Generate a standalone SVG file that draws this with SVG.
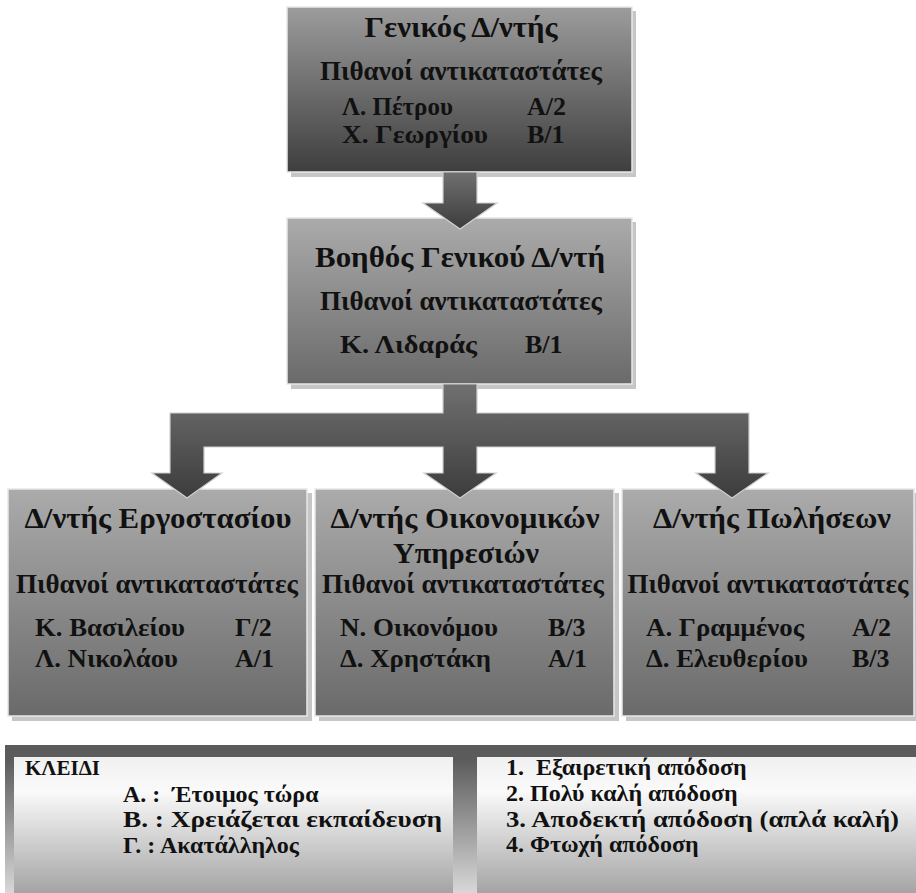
<svg xmlns="http://www.w3.org/2000/svg" width="916" height="893" viewBox="0 0 916 893">
<defs>
<linearGradient id="gTop" x1="0" y1="0" x2="0" y2="1"><stop offset="0" stop-color="#9c9c9c"/><stop offset="1" stop-color="#3e3e3e"/></linearGradient>
<linearGradient id="gBox" x1="0" y1="0" x2="0" y2="1"><stop offset="0" stop-color="#ababab"/><stop offset="1" stop-color="#6a6a6a"/></linearGradient>
<linearGradient id="gArrow" x1="0" y1="0" x2="0" y2="1"><stop offset="0" stop-color="#707070"/><stop offset="1" stop-color="#3c3c3c"/></linearGradient>
<linearGradient id="gFrame" x1="0" y1="0" x2="0" y2="1"><stop offset="0" stop-color="#5a5a5a"/><stop offset="0.1" stop-color="#5c5c5c"/><stop offset="1" stop-color="#d8d8d8"/></linearGradient>
<linearGradient id="gPanel" x1="0" y1="0" x2="0" y2="1"><stop offset="0" stop-color="#f0f0f0"/><stop offset="0.25" stop-color="#fafafa"/><stop offset="1" stop-color="#a4a4a4"/></linearGradient>
<style>
text{font-family:"Liberation Serif","Times New Roman",serif;font-weight:bold;fill:#111}
.t{font-size:30px;text-anchor:middle}
.p{font-size:27px;text-anchor:middle}
.n{font-size:26px}
.k{font-size:24px;white-space:pre}
.shadow{fill:#c6c6c6}
.box{stroke:#e8e8e8;stroke-width:1.5}
.arrow{fill:url(#gArrow);stroke:#cfcfcf;stroke-width:1.2}
</style>
</defs>
<rect width="916" height="893" fill="#ffffff"/>

<g id="node-general">
<rect class="shadow" x="291" y="11" width="345" height="166"/>
<rect class="box" x="287" y="7" width="345" height="165" fill="url(#gTop)"/>
<text class="t" x="461" y="37" textLength="193" lengthAdjust="spacingAndGlyphs">Γενικός Δ/ντής</text>
<text class="p" x="461" y="80" textLength="282" lengthAdjust="spacingAndGlyphs">Πιθανοί αντικαταστάτες</text>
<text class="n" x="342" y="115" textLength="111" lengthAdjust="spacingAndGlyphs">Λ. Πέτρου</text>
<text class="n" x="527" y="115">Α/2</text>
<text class="n" x="342" y="143" textLength="146" lengthAdjust="spacingAndGlyphs">Χ. Γεωργίου</text>
<text class="n" x="527" y="143">Β/1</text>
</g>

<g id="node-assistant">
<rect class="shadow" x="291" y="222" width="345" height="167"/>
<rect class="box" x="287" y="218" width="345" height="166" fill="url(#gBox)"/>
<text class="t" x="460" y="267" textLength="290" lengthAdjust="spacingAndGlyphs">Βοηθός Γενικού Δ/ντή</text>
<text class="p" x="461" y="310" textLength="282" lengthAdjust="spacingAndGlyphs">Πιθανοί αντικαταστάτες</text>
<text class="n" x="340" y="353" textLength="137" lengthAdjust="spacingAndGlyphs">Κ. Λιδαράς</text>
<text class="n" x="525" y="353">Β/1</text>
</g>

<g id="node-factory">
<rect class="shadow" x="12" y="493" width="300" height="228"/>
<rect class="box" x="8" y="489" width="299" height="227" fill="url(#gBox)"/>
<text class="t" x="158" y="528" textLength="267" lengthAdjust="spacingAndGlyphs">Δ/ντής Εργοστασίου</text>
<text class="p" x="157" y="593" textLength="282" lengthAdjust="spacingAndGlyphs">Πιθανοί αντικαταστάτες</text>
<text class="n" x="35" y="636" textLength="150" lengthAdjust="spacingAndGlyphs">Κ. Βασιλείου</text>
<text class="n" x="235" y="636">Γ/2</text>
<text class="n" x="35" y="667" textLength="143" lengthAdjust="spacingAndGlyphs">Λ. Νικολάου</text>
<text class="n" x="235" y="667">Α/1</text>
</g>

<g id="node-finance">
<rect class="shadow" x="319" y="493" width="300" height="228"/>
<rect class="box" x="315" y="489" width="299" height="227" fill="url(#gBox)"/>
<text class="t" x="465" y="528" textLength="269" lengthAdjust="spacingAndGlyphs">Δ/ντής Οικονομικών</text>
<text class="t" x="466" y="563" textLength="146" lengthAdjust="spacingAndGlyphs">Υπηρεσιών</text>
<text class="p" x="463" y="593" textLength="282" lengthAdjust="spacingAndGlyphs">Πιθανοί αντικαταστάτες</text>
<text class="n" x="340" y="636" textLength="158" lengthAdjust="spacingAndGlyphs">Ν. Οικονόμου</text>
<text class="n" x="548" y="636">Β/3</text>
<text class="n" x="340" y="667" textLength="151" lengthAdjust="spacingAndGlyphs">Δ. Χρηστάκη</text>
<text class="n" x="548" y="667">Α/1</text>
</g>

<g id="node-sales">
<rect class="shadow" x="626" y="493" width="290" height="228"/>
<rect class="box" x="622" y="489" width="292" height="227" fill="url(#gBox)"/>
<text class="t" x="772" y="528" textLength="238" lengthAdjust="spacingAndGlyphs">Δ/ντής Πωλήσεων</text>
<text class="p" x="768" y="593" textLength="281" lengthAdjust="spacingAndGlyphs">Πιθανοί αντικαταστάτες</text>
<text class="n" x="646" y="636" textLength="158" lengthAdjust="spacingAndGlyphs">Α. Γραμμένος</text>
<text class="n" x="852" y="636">Α/2</text>
<text class="n" x="646" y="667" textLength="162" lengthAdjust="spacingAndGlyphs">Δ. Ελευθερίου</text>
<text class="n" x="852" y="667">Β/3</text>
</g>

<g id="connectors">
<path class="arrow" d="M443,172 L477,172 L477,203 L497,203 L460,229 L423,203 L443,203 Z"/>
<path class="arrow" d="M443,384 L477,384 L477,413 L749,413 L749,473 L768,473 L732,498 L696,473 L715,473 L715,447 L477,447 L477,473 L496,473 L460,498 L424,473 L443,473 L443,447 L204,447 L204,473 L222,473 L187,498 L152,473 L170,473 L170,413 L443,413 Z"/>
</g>

<g id="legend">
<rect x="5" y="745" width="911" height="148" fill="url(#gFrame)"/>
<rect x="14" y="757" width="439" height="136" fill="url(#gPanel)"/>
<rect x="477" y="757" width="439" height="136" fill="url(#gPanel)"/>
<text x="25" y="775" style="font-size:20px" textLength="75" lengthAdjust="spacingAndGlyphs">ΚΛΕΙΔΙ</text>
<text class="k" x="123" y="802">Α. :  Έτοιμος τώρα</text>
<text class="k" x="123" y="827" textLength="319" lengthAdjust="spacingAndGlyphs">Β. : Χρειάζεται εκπαίδευση</text>
<text class="k" x="123" y="853">Γ. : Ακατάλληλος</text>
<text class="k" x="506" y="775">1.  Εξαιρετική απόδοση</text>
<text class="k" x="506" y="801">2. Πολύ καλή απόδοση</text>
<text class="k" x="506" y="827" textLength="393" lengthAdjust="spacingAndGlyphs">3. Αποδεκτή απόδοση (απλά καλή)</text>
<text class="k" x="506" y="852">4. Φτωχή απόδοση</text>
</g>
</svg>
